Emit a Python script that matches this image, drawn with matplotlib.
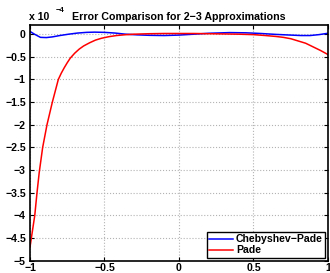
import matplotlib
matplotlib.use("Agg")
import matplotlib.pyplot as plt

plt.rcParams['font.family'] = ['Liberation Sans', 'DejaVu Sans']
plt.rcParams['font.weight'] = 'bold'

# error values, in units of 1e-4
cheb_x = [-1.0, -0.97, -0.93, -0.89, -0.85, -0.8, -0.74, -0.68, -0.62, -0.566,
          -0.5, -0.43, -0.36, -0.28, -0.2, -0.1, 0.0, 0.1, 0.2, 0.34, 0.45,
          0.55, 0.65, 0.75, 0.82, 0.88, 0.94, 1.0]
cheb_y = [0.06, 0.0, -0.07, -0.075, -0.06, -0.03, 0.0, 0.025, 0.04, 0.045,
          0.04, 0.025, 0.0, -0.015, -0.025, -0.03, -0.02, 0.0, 0.02, 0.035, 0.03,
          0.015, -0.005, -0.02, -0.03, -0.03, -0.01, 0.02]

pade_x = [-1.0, -0.984, -0.968, -0.953, -0.938, -0.915, -0.886, -0.85, -0.81,
          -0.79, -0.77, -0.75, -0.73, -0.70, -0.67, -0.64, -0.60, -0.56, -0.52,
          -0.47, -0.42, -0.36, -0.3, -0.2, -0.1, 0.0, 0.1, 0.2, 0.3, 0.4, 0.5,
          0.58, 0.65, 0.7, 0.75, 0.8, 0.85, 0.9, 0.95, 1.0]
pade_y = [-4.70, -4.35, -4.0, -3.5, -3.05, -2.5, -2.0, -1.5, -1.0,
          -0.86, -0.74, -0.63, -0.53, -0.42, -0.33, -0.26, -0.19, -0.13, -0.09,
          -0.055, -0.03, -0.012, 0.0, 0.01, 0.015, 0.015, 0.015, 0.01, 0.005, 0.0, -0.01,
          -0.03, -0.05, -0.07, -0.1, -0.15, -0.2, -0.28, -0.36, -0.45]

xticks = [-1, -0.5, 0, 0.5, 1]
yticks = [0, -0.5, -1, -1.5, -2, -2.5, -3, -3.5, -4, -4.5, -5]

fig = plt.figure(figsize=(3.3, 2.73), dpi=100)
ax = fig.add_axes([0.0909, 0.045, 0.903, 0.863])

ax.plot(cheb_x, cheb_y, color='b', lw=1.1, label='Chebyshev\u2212Pade')
ax.plot(pade_x, pade_y, color='r', lw=1.1, label='Pade')

ax.set_xlim(-1, 1)
ax.set_ylim(-5, 0.2)
ax.set_xticks(xticks)
ax.set_xticklabels(['\u22121', '\u22120.5', '0', '0.5', '1'])
ax.set_yticks(yticks)
ax.set_yticklabels([('\u2212' if v < 0 else '') + ('%g' % abs(v)) for v in yticks])
ax.tick_params(direction='in', length=3, width=0.8, labelsize=7.6, top=True, right=True)
ax.tick_params(axis='x', pad=2)
ax.tick_params(axis='y', pad=3)
for lab in ax.get_xticklabels() + ax.get_yticklabels():
    lab.set_fontweight('bold')
for s in ax.spines.values():
    s.set_linewidth(1.2)

ax.grid(True, linestyle=':', color='0.7', lw=0.8)

ax.set_title('Error Comparison for 2\u22123 Approximations', fontsize=7.7,
             fontweight='bold', pad=4)
fig.text(0.088, 0.92, 'x 10', fontsize=7.6, fontweight='bold', va='bottom')
fig.text(0.168, 0.95, '\u22124', fontsize=5.5, fontweight='bold', va='bottom')

leg = ax.legend(loc='lower right', fontsize=7.6, frameon=True, fancybox=False,
                edgecolor='k', framealpha=1, borderaxespad=0.3, handlelength=2.2,
                handletextpad=0.3, borderpad=0.2, labelspacing=0.1)
leg.get_frame().set_linewidth(1.0)
for t in leg.get_texts():
    t.set_fontweight('bold')

fig.savefig('out.png', dpi=100)
